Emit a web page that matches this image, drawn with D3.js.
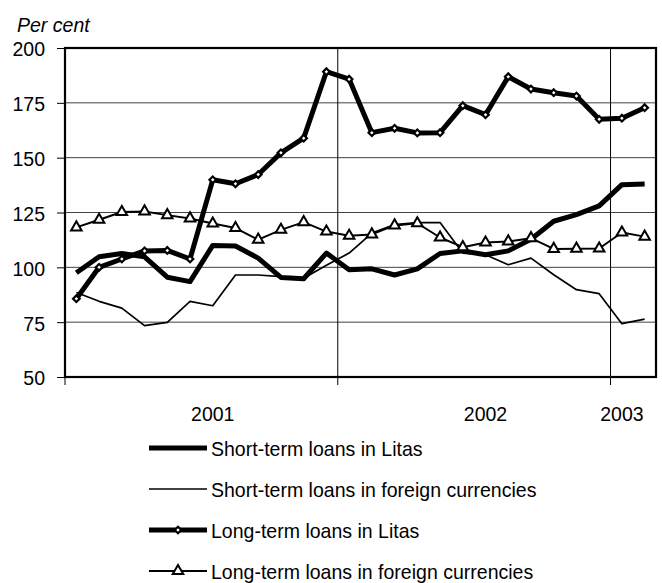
<!DOCTYPE html>
<html>
<head>
<meta charset="utf-8">
<script src="https://cdn.jsdelivr.net/npm/d3@7"></script>
<style>
  body { margin: 0; background: #fff; }
  text { font-family: "Liberation Sans", Arial, sans-serif; fill: #000; }
</style>
</head>
<body>
<svg id="chart"></svg>
<script>
// monthly categories, Jan 2001 .. Feb 2003
const months = [
  "2001-01", "2001-02", "2001-03", "2001-04", "2001-05", "2001-06",
  "2001-07", "2001-08", "2001-09", "2001-10", "2001-11", "2001-12",
  "2002-01", "2002-02", "2002-03", "2002-04", "2002-05", "2002-06",
  "2002-07", "2002-08", "2002-09", "2002-10", "2002-11", "2002-12",
  "2003-01", "2003-02"
];

const shortLitas = [97.5, 104.8, 106.3, 104.8, 95.5, 93.5, 110.0, 109.7, 104.2, 95.4, 94.8, 106.5,
  98.9, 99.3, 96.5, 99.3, 106.3, 107.5, 105.7, 107.5, 112.8, 121.0, 124.0, 128.0, 137.7, 138.0];
const shortForeign = [88.5, 84.5, 81.4, 73.4, 74.9, 84.5, 82.5, 96.5, 96.5, 95.8, 95.0, 101.0,
  106.5, 115.6, 119.5, 120.4, 120.4, 106.5, 105.7, 101.2, 104.2, 96.6, 89.8, 88.0, 74.3, 76.4];
const longLitas = [85.7, 100.0, 103.8, 107.5, 107.7, 103.8, 139.9, 138.1, 142.3, 152.2, 158.9, 189.2,
  185.8, 161.4, 163.4, 161.3, 161.4, 173.7, 169.6, 186.9, 181.3, 179.6, 178.1, 167.5, 168.0, 172.8];
const longForeign = [118.2, 121.7, 125.2, 125.5, 123.8, 122.3, 120.0, 117.9, 112.6, 117.1, 120.6, 116.3,
  114.4, 115.0, 119.1, 120.1, 113.6, 109.2, 111.3, 111.8, 113.3, 108.4, 108.5, 108.6, 115.9, 114.0];

const yTicks = [50, 75, 100, 125, 150, 175, 200];
const yearLabels = ["2001", "2002", "2003"];
const yearLabelMonths = ["2001-07", "2002-07", "2003-01"]; // where the year label sits
const yearStarts = ["2002-01", "2003-01"];

const series = [
  { name: "Short-term loans in Litas", values: shortLitas, width: 5, marker: null },
  { name: "Short-term loans in foreign currencies", values: shortForeign, width: 1.7, marker: null },
  { name: "Long-term loans in Litas", values: longLitas, width: 5, marker: "diamond" },
  { name: "Long-term loans in foreign currencies", values: longForeign, width: 2, marker: "triangle" }
];

const W = 662, H = 583;
const margin = { top: 48, right: 6, bottom: 206, left: 65 };
const plotW = W - margin.left - margin.right;
const plotH = H - margin.top - margin.bottom;
const FS = 21, SX = 0.93; // the source text is a bit narrow and tall

const svg = d3.select("#chart").attr("width", W).attr("height", H);
const g = svg.append("g").attr("transform", `translate(${margin.left},${margin.top})`);

const x = d3.scaleBand().domain(months).range([0, plotW]).padding(0);
const y = d3.scaleLinear().domain([50, 200]).range([plotH, 0]);
const cx = m => x(m) + x.bandwidth() / 2;

// condensed text placed at (tx, ty)
function label(parent, tx, ty, str, anchor) {
  return parent.append("text")
    .attr("transform", `translate(${tx},${ty}) scale(${SX},1)`)
    .attr("text-anchor", anchor || "start")
    .attr("font-size", FS)
    .text(str);
}

// horizontal grid
g.append("g").selectAll("line")
  .data(yTicks.slice(1, -1))
  .join("line")
  .attr("x1", 0).attr("x2", plotW)
  .attr("y1", d => y(d)).attr("y2", d => y(d))
  .attr("stroke", "#444").attr("stroke-width", 1);

// year separators, running down past the axis as ticks
g.append("g").selectAll("line")
  .data(yearStarts)
  .join("line")
  .attr("x1", d => x(d)).attr("x2", d => x(d))
  .attr("y1", 0).attr("y2", plotH + 8)
  .attr("stroke", "#000").attr("stroke-width", 1);

// left axis
const yAxis = g.append("g")
  .call(d3.axisLeft(y).tickValues(yTicks).tickSize(8).tickFormat(d3.format("d")));
yAxis.select(".domain").remove();
yAxis.selectAll(".tick line").attr("stroke", "#000").attr("stroke-width", 1);
yAxis.selectAll(".tick text")
  .attr("font-size", FS)
  .attr("font-family", "Liberation Sans, Arial, sans-serif")
  .attr("transform", `scale(${SX},1)`)
  .attr("x", -20 / SX)
  .attr("dy", "0.38em");

g.append("line")
  .attr("x1", 0).attr("x2", 0).attr("y1", plotH).attr("y2", plotH + 8)
  .attr("stroke", "#000").attr("stroke-width", 1);

// x labels
yearLabels.forEach((d, i) => label(g, cx(yearLabelMonths[i]), plotH + 44, d, "middle"));

// plot frame
g.append("rect")
  .attr("width", plotW).attr("height", plotH)
  .attr("fill", "none").attr("stroke", "#000").attr("stroke-width", 2.2);

const line = d3.line()
  .x((d, i) => cx(months[i]))
  .y(d => y(d));

const diamond = d3.symbol().type(d3.symbolSquare).size(22);
const triangle = d3.symbol().type(d3.symbolTriangle).size(48);

function drawMarkers(sel, kind, pts) {
  sel.selectAll("path.m")
    .data(pts)
    .join("path")
    .attr("class", "m")
    .attr("d", kind === "diamond" ? diamond : triangle)
    .attr("transform", d => `translate(${d[0]},${d[1]})` + (kind === "diamond" ? " rotate(45)" : ""))
    .attr("fill", "#fff")
    .attr("stroke", "#000")
    .attr("stroke-width", kind === "diamond" ? 2.2 : 2);
}

series.forEach(s => {
  const sg = g.append("g");
  sg.append("path")
    .datum(s.values)
    .attr("d", line)
    .attr("fill", "none")
    .attr("stroke", "#000")
    .attr("stroke-width", s.width)
    .attr("stroke-linejoin", "round");
  if (s.marker) {
    drawMarkers(sg, s.marker, s.values.map((v, i) => [cx(months[i]), y(v)]));
  }
});

// "Per cent"
label(svg, 17, 32, "Per cent").attr("font-style", "italic");

// legend
const legend = svg.append("g").attr("transform", "translate(149,448)");
const rowH = 41;
series.forEach((s, i) => {
  const row = legend.append("g").attr("transform", `translate(0,${i * rowH})`);
  row.append("line")
    .attr("x1", 0).attr("x2", 58)
    .attr("y1", 0).attr("y2", 0)
    .attr("stroke", "#000").attr("stroke-width", s.width);
  if (s.marker) drawMarkers(row, s.marker, [[29, 0]]);
  label(row, 62, 7.5, s.name);
});
</script>
</body>
</html>
